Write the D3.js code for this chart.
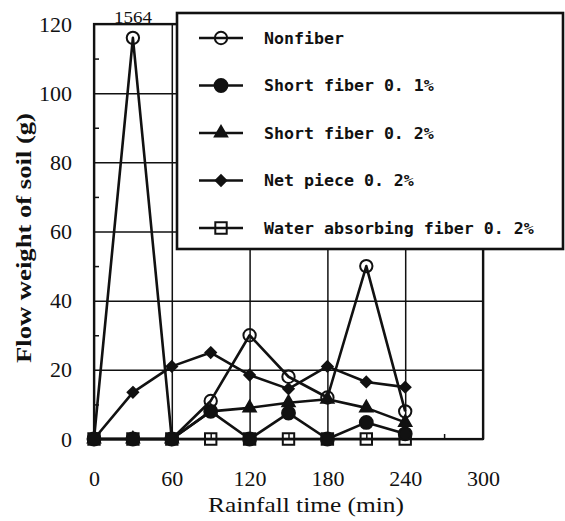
<!DOCTYPE html>
<html>
<head>
<meta charset="utf-8">
<script src="https://cdn.jsdelivr.net/npm/d3@7"></script>
<style>
  html, body { margin: 0; padding: 0; background: #fff; }
  svg { display: block; }
</style>
</head>
<body>
<svg id="chart" width="565" height="521"></svg>
<script>
// ---- data ----
const times = [0, 30, 60, 90, 120, 150, 180, 210, 240];
const nonfiber = [0, 116, 0, 11, 30, 18, 12, 50, 8];
const shortFiber01 = [0, 0, 0, 8, 0, 7.5, 0, 4.8, 1.5];
const shortFiber02 = [0, 0, 0, 8, 9, 10.5, 11.5, 9, 4.8];
const netPiece = [0, 13.5, 21, 25, 18.5, 14.5, 21, 16.5, 15];
const waterAbsorbing = [0, 0, 0, 0, 0, 0, 0, 0, 0];
const seriesNames = ["Nonfiber", "Short fiber 0. 1%", "Short fiber 0. 2%", "Net piece 0. 2%", "Water absorbing fiber 0. 2%"];
const xTicks = [0, 60, 120, 180, 240, 300];
const yTicks = [0, 20, 40, 60, 80, 100, 120];
const xMinor = [30, 90, 150, 210, 270];
const yMinor = [10, 30, 50, 70, 90, 110];
const peakLabel = "1564";
const xTitle = "Rainfall time (min)";
const yTitle = "Flow weight of soil (g)";

// ---- layout ----
const svg = d3.select("#chart");
const L = 94, R = 483, T = 24, B = 439;
const x = d3.scaleLinear().domain([0, 300]).range([L, R]);
const y = d3.scaleLinear().domain([0, 120]).range([B, T]);

const serif = "'Liberation Serif', 'Times New Roman', serif";
const mono = "'DejaVu Sans Mono', 'Liberation Mono', monospace";

// gridlines + y labels
const yAxis = svg.append("g").attr("transform", `translate(${L},0)`)
  .call(d3.axisLeft(y).tickValues(yTicks).tickSize(-(R - L)).tickPadding(22).tickFormat(d3.format("d")));
yAxis.select(".domain").remove();
yAxis.selectAll("line").attr("stroke", "#111").attr("stroke-width", 1.5);
yAxis.selectAll("text").attr("font-family", serif).attr("font-size", 22).attr("fill", "#111");

const xAxis = svg.append("g").attr("transform", `translate(0,${B})`)
  .call(d3.axisBottom(x).tickValues(xTicks).tickSize(-(B - T)).tickPadding(31).tickFormat(d3.format("d")));
xAxis.select(".domain").remove();
xAxis.selectAll("line").attr("stroke", "#111").attr("stroke-width", 1.5);
xAxis.selectAll("text").attr("font-family", serif).attr("font-size", 22).attr("fill", "#111");

// minor ticks
const yMin = svg.append("g").attr("transform", `translate(${L},0)`)
  .call(d3.axisLeft(y).tickValues(yMinor).tickSize(-5).tickFormat(""));
yMin.select(".domain").remove();
yMin.selectAll("line").attr("stroke", "#111").attr("stroke-width", 1.5);
const xMin = svg.append("g").attr("transform", `translate(0,${B})`)
  .call(d3.axisBottom(x).tickValues(xMinor).tickSize(-5).tickFormat(""));
xMin.select(".domain").remove();
xMin.selectAll("line").attr("stroke", "#111").attr("stroke-width", 1.5);

// frame
svg.append("rect").attr("x", L).attr("y", T).attr("width", R - L).attr("height", B - T)
  .attr("fill", "none").attr("stroke", "#111").attr("stroke-width", 2.2);

// titles
svg.append("text").attr("x", 306).attr("y", 512).attr("text-anchor", "middle")
  .attr("font-family", serif).attr("font-size", 22).attr("fill", "#111")
  .attr("textLength", 196).attr("lengthAdjust", "spacingAndGlyphs").text(xTitle);
svg.append("text").attr("transform", "translate(31,238) rotate(-90)").attr("text-anchor", "middle")
  .attr("font-family", serif).attr("font-size", 21).attr("font-weight", "bold").attr("fill", "#111")
  .attr("textLength", 250).attr("lengthAdjust", "spacingAndGlyphs").text(yTitle);

// series
const seriesData = [nonfiber, shortFiber01, shortFiber02, netPiece, waterAbsorbing];
const markerDefs = [
  { type: d3.symbolCircle, size: 120, fill: "none" },
  { type: d3.symbolCircle, size: 130, fill: "#111" },
  { type: d3.symbolTriangle, size: 65, fill: "#111" },
  { type: d3.symbolDiamond2, size: 70, fill: "#111" },
  { type: d3.symbolSquare, size: 130, fill: "none" }
];
const line = d3.line().x((d, i) => x(times[i])).y(d => y(d));
const order = [4, 0, 3, 2, 1];
order.forEach(s => {
  svg.append("path").datum(seriesData[s]).attr("d", line)
    .attr("fill", "none").attr("stroke", "#111").attr("stroke-width", 2.6).attr("stroke-linejoin", "round");
});
order.forEach(s => {
  const m = markerDefs[s];
  svg.append("g").selectAll("path").data(seriesData[s]).join("path")
    .attr("transform", (d, i) => `translate(${x(times[i])},${y(d)})`)
    .attr("d", d3.symbol().type(m.type).size(m.size))
    .attr("fill", m.fill).attr("stroke", "#111").attr("stroke-width", 2);
});

// peak label (off-scale value)
svg.append("text").attr("x", x(30)).attr("y", 23).attr("text-anchor", "middle")
  .attr("font-family", serif).attr("font-size", 16).attr("fill", "#111")
  .attr("textLength", 38).attr("lengthAdjust", "spacingAndGlyphs").text(peakLabel);

// legend
const lg = svg.append("g");
lg.append("rect").attr("x", 177).attr("y", 13).attr("width", 386).attr("height", 236)
  .attr("fill", "#fff").attr("stroke", "#111").attr("stroke-width", 2.6);
const rowY = d3.scalePoint().domain(d3.range(seriesNames.length)).range([38, 228]);
seriesNames.forEach((name, s) => {
  const cy = rowY(s);
  const m = markerDefs[s];
  lg.append("line").attr("x1", 199).attr("x2", 243).attr("y1", cy).attr("y2", cy)
    .attr("stroke", "#111").attr("stroke-width", 2.4);
  lg.append("path").attr("transform", `translate(221,${cy})`)
    .attr("d", d3.symbol().type(m.type).size(m.size))
    .attr("fill", m.fill).attr("stroke", "#111").attr("stroke-width", 2);
  lg.append("text").attr("x", 264).attr("y", cy).attr("dy", "0.36em")
    .attr("font-family", mono).attr("font-weight", "bold").attr("font-size", 16.6).attr("fill", "#111")
    .text(name);
});
</script>
</body>
</html>
